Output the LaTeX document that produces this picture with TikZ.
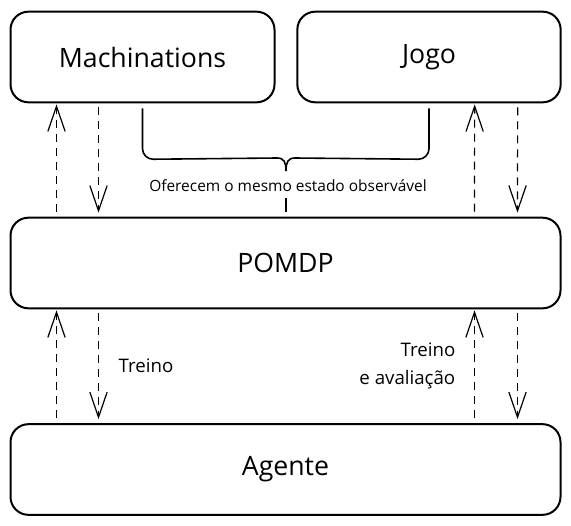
\documentclass[tikz,border=0pt]{standalone}
\usepackage{fontspec}
\setmainfont{Open Sans}
\usetikzlibrary{arrows.meta,calc}
\tikzset{
  caixa/.style={draw, line width=1.5pt, rounded corners=13.5pt, minimum height=68pt, font=\fontsize{20}{22}\selectfont},
  seta/.style={line width=0.9pt, dash pattern=on 6pt off 4.5pt, -{Straight Barb[length=19pt,width=13pt]}},
  chave/.style={line width=1.2pt},
  rotulo/.style={font=\fontsize{14}{21}\selectfont}
}
\begin{document}
\begin{tikzpicture}[x=0.75pt,y=-0.75pt]
		\useasboundingbox (0,0) rectangle (571,525);
		
		\node[caixa, minimum width=198pt] (mach) at (142.5,57) {Machinations};
		\node[caixa, minimum width=197.5pt] (jogo) at (429,57) {Jogo};
		\node[caixa, minimum width=412.5pt] (pomdp) at (285.5,263) {POMDP};
		\node[caixa, minimum width=412.5pt] (agente) at (285.5,469.5) {Agente};
		
		\node[font=\fontsize{11.6}{12}\selectfont] (obs) at (288,186) {Oferecem o mesmo estado observável};
		\draw[chave, rounded corners=8pt] ($(mach.south)+(0,5)$) -- ($(mach.south)+(0,56)$) -- (277,158);
		\draw[chave] (277,158) .. controls (284,158) and (286,162) .. (286,171);
		\draw[chave, rounded corners=8pt] ($(jogo.south)+(0,5)$) -- ($(jogo.south)+(0,56)$) -- (295,158);
		\draw[chave] (295,158) .. controls (288,158) and (286,162) .. (286,171);
		\draw[chave] ($(pomdp.north)+(0.5,-19)$) -- ($(pomdp.north)+(0.5,-5)$);
		
		\draw[seta] ($(pomdp.north west)+(47,-5)$) -- ($(mach.south west)+(47,1)$);
		\draw[seta] ($(mach.south west)+(89,4)$) -- ($(pomdp.north west)+(89,-4)$);
		\draw[seta] ($(pomdp.north east)+(-87,-5)$) -- ($(jogo.south east)+(-87,1)$);
		\draw[seta] ($(jogo.south east)+(-44,4)$) -- ($(pomdp.north east)+(-44,-4)$);
		
		\draw[seta] ($(agente.north west)+(47,-5)$) -- ($(pomdp.south west)+(47,1)$);
		\draw[seta] ($(pomdp.south west)+(89,4)$) -- ($(agente.north west)+(89,-4)$);
		\draw[seta] ($(agente.north east)+(-87,-5)$) -- ($(pomdp.south east)+(-87,1)$);
		\draw[seta] ($(pomdp.south east)+(-44,4)$) -- ($(agente.north east)+(-44,-4)$);
		
		\node[rotulo, anchor=west] (treino) at (114,366) {Treino};
		\node[rotulo, anchor=east, align=right] (treinoaval) at (460,366) {Treino\\e avaliação};
\end{tikzpicture}
\end{document}
